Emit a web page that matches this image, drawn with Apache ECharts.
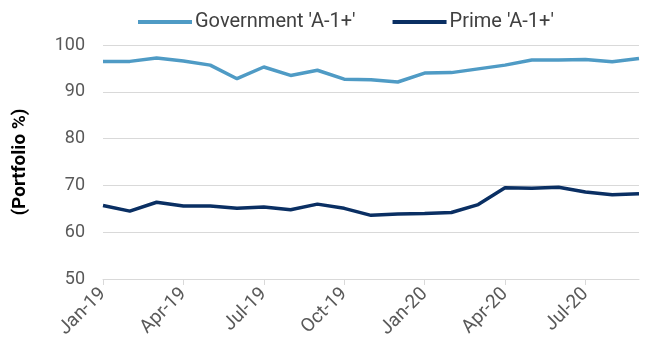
<!DOCTYPE html>
<html><head><meta charset="utf-8">
<script src="https://cdn.jsdelivr.net/npm/echarts@6/dist/echarts.min.js"></script>
<style>html,body{margin:0;padding:0;background:#fff}#c{width:651px;height:349px}</style>
</head><body><div id="c"></div>
<script>
const categories = ['Jan-19','Feb-19','Mar-19','Apr-19','May-19','Jun-19','Jul-19','Aug-19','Sep-19','Oct-19','Nov-19','Dec-19','Jan-20','Feb-20','Mar-20','Apr-20','May-20','Jun-20','Jul-20','Aug-20','Sep-20'];
const government = [96.5,96.5,97.2,96.6,95.7,92.8,95.3,93.5,94.6,92.7,92.6,92.1,94.0,94.1,94.9,95.7,96.8,96.8,96.9,96.4,97.1];
const prime = [65.7,64.5,66.4,65.6,65.6,65.1,65.4,64.8,66.0,65.1,63.6,63.9,64.0,64.2,65.9,69.5,69.4,69.6,68.6,68.0,68.2];
const yTicks = [50,60,70,80,90,100];
const FONT = "Roboto,'Liberation Sans',sans-serif";
const chart = echarts.init(document.getElementById('c'));
chart.setOption({
  animation:false,
  textStyle:{fontFamily:FONT},
  legend:{top:7,left:133,itemWidth:54,itemHeight:4,itemGap:37,icon:'rect',
    textStyle:{fontFamily:FONT,fontSize:20,color:'#404040',padding:[0,0,0,-2]}},
  grid:{left:103,right:12,top:45,bottom:70},
  xAxis:{type:'category',data:categories,boundaryGap:false,
    axisLine:{lineStyle:{color:'#d9d9d9'}},
    axisTick:{show:true,interval:2,length:6,lineStyle:{color:'#d9d9d9'}},
    axisLabel:{interval:2,rotate:45,fontFamily:FONT,fontSize:19,color:'#595959',margin:12}},
  yAxis:{type:'value',min:yTicks[0],max:yTicks[yTicks.length-1],interval:10,
    name:'(Portfolio %)',nameLocation:'middle',nameGap:73,
    nameTextStyle:{fontFamily:FONT,fontSize:19,fontWeight:'bold',color:'#000'},
    axisLine:{show:false},axisTick:{show:false},
    axisLabel:{fontFamily:FONT,fontSize:18,color:'#595959',margin:18},
    splitLine:{lineStyle:{color:'#d9d9d9'}}},
  series:[
    {name:"Government 'A-1+'",type:'line',data:government,symbol:'none',lineStyle:{width:3.5,color:'#4f9bc5'},itemStyle:{color:'#4f9bc5'}},
    {name:"Prime 'A-1+'",type:'line',data:prime,symbol:'none',lineStyle:{width:3.5,color:'#0a2f63'},itemStyle:{color:'#0a2f63'}}
  ]
});
</script></body></html>
